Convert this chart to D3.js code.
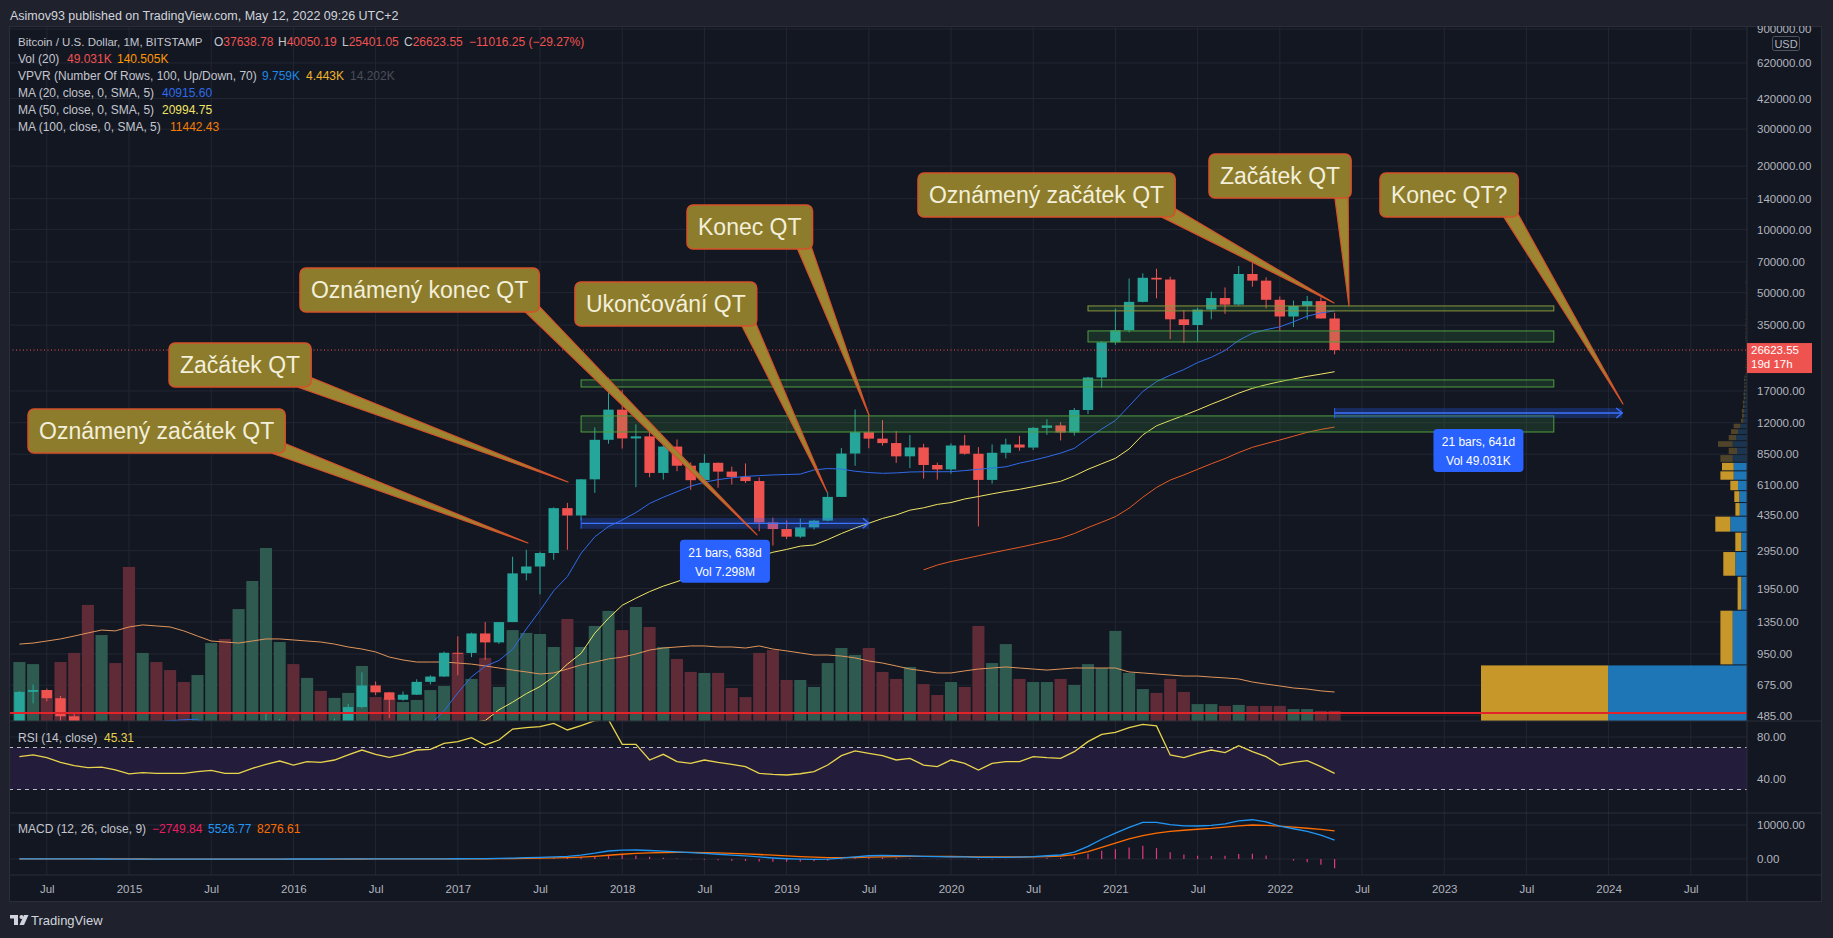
<!DOCTYPE html>
<html><head><meta charset="utf-8">
<script src="https://cdn.jsdelivr.net/npm/d3@7"></script>
<style>
html,body{margin:0;padding:0;background:#1f222d;overflow:hidden;}
svg{display:block;}
text{font-family:"Liberation Sans",Arial,sans-serif;}
</style></head><body>
<svg id="chart" width="1833" height="938"></svg>
<script>
// ---------------- DATA ----------------
const months = ["2014-05","2014-06","2014-07","2014-08","2014-09","2014-10","2014-11","2014-12",
"2015-01","2015-02","2015-03","2015-04","2015-05","2015-06","2015-07","2015-08","2015-09","2015-10","2015-11","2015-12",
"2016-01","2016-02","2016-03","2016-04","2016-05","2016-06","2016-07","2016-08","2016-09","2016-10","2016-11","2016-12",
"2017-01","2017-02","2017-03","2017-04","2017-05","2017-06","2017-07","2017-08","2017-09","2017-10","2017-11","2017-12",
"2018-01","2018-02","2018-03","2018-04","2018-05","2018-06","2018-07","2018-08","2018-09","2018-10","2018-11","2018-12",
"2019-01","2019-02","2019-03","2019-04","2019-05","2019-06","2019-07","2019-08","2019-09","2019-10","2019-11","2019-12",
"2020-01","2020-02","2020-03","2020-04","2020-05","2020-06","2020-07","2020-08","2020-09","2020-10","2020-11","2020-12",
"2021-01","2021-02","2021-03","2021-04","2021-05","2021-06","2021-07","2021-08","2021-09","2021-10","2021-11","2021-12",
"2022-01","2022-02","2022-03","2022-04","2022-05"];

const open = [445,627,640,585,480,387,338,375,
 320,217,254,244,236,230,263,284,230,236,314,377,
 430,368,436,416,448,531,673,624,575,608,700,742,
 963,961,1190,1079,1348,2300,2480,2875,4703,4340,6450,9950,
 13850,10100,10330,6920,9240,7490,6390,7730,7020,6625,6330,4020,
 3740,3440,3810,4100,5320,8560,10820,10080,9600,8300,9150,7550,
 7190,9350,8540,6410,8630,9450,9140,11340,11650,10780,13800,19700,
 28990,33110,45160,58800,57700,37300,35040,41500,47100,43800,61300,57000,
 46200,38470,43160,45530,37638.78];
const high = [633,680,650,600,495,417,459,391,
 320,265,300,261,247,268,317,285,244,334,500,466,
 462,442,439,468,550,777,704,627,630,720,752,975,
 1153,1200,1350,1348,2760,2980,2920,4745,4980,6470,11400,19666,
 17170,11790,11700,9750,9990,7770,8500,7760,7410,7680,6590,4240,
 4110,4190,4140,5620,9100,13880,13180,12350,10950,10500,9520,7750,
 9570,10500,9180,9460,10070,10390,11450,12470,12070,14100,19850,29300,
 41950,58330,61780,64900,59500,41300,42400,50500,52900,67000,69000,59100,
 47900,45800,48200,47440,40050.19];
const low = [437,553,565,441,351,275,316,305,
 152,212,236,215,227,218,253,162,224,236,300,349,
 354,366,394,414,440,525,605,470,569,606,681,740,
 752,918,890,1061,1348,2130,1830,2670,2980,4110,5560,9530,
 9040,5920,6600,6430,7050,5750,6070,5880,6100,6200,3650,3120,
 3350,3390,3720,4070,5320,7480,9070,9340,7730,7300,6500,6430,
 6860,8450,3850,6150,8120,8830,8900,10510,9880,10420,13200,17600,
 28200,32300,44950,47000,30000,28800,29300,37300,39600,43300,53300,42000,
 32900,34300,37200,37600,25401.05];
const close = [627,640,585,480,387,338,375,320,
 217,254,244,236,230,263,284,230,236,314,377,430,
 368,436,416,448,531,673,624,575,608,700,742,963,
 961,1190,1079,1348,2300,2480,2875,4703,4340,6450,9950,13850,
 10100,10330,6920,9240,7490,6390,7730,7020,6625,6330,4020,3740,
 3440,3810,4100,5320,8560,10820,10080,9600,8300,9150,7550,7190,
 9350,8540,6410,8630,9450,9140,11340,11650,10780,13800,19700,28990,
 33110,45160,58800,57700,37300,35040,41500,47100,43800,61300,57000,46200,
 38470,43160,45530,37640,26623.55];
// volume, thousands of BTC
const volume = [286,276,150,286,330,563,417,281,
 747,330,286,247,189,223,378,398,543,679,839,383,
 276,209,146,112,136,267,116,112,92,102,150,170,
 330,204,306,165,441,427,422,359,495,359,461,534,
 441,553,456,359,301,238,233,233,160,116,330,344,
 199,199,165,281,354,320,354,238,204,262,179,126,
 189,165,461,281,373,204,189,189,204,175,276,257,
 437,233,155,136,204,141,82,82,73,78,73,73,
 73,58,58,49,49.031];
const volumeMA = [373,378,388,398,412,427,441,437,
 456,466,461,456,437,412,388,383,378,388,398,398,
 393,388,383,373,359,349,335,310,296,286,286,286,
 281,276,267,257,247,238,228,233,252,272,286,301,
 310,325,344,354,359,364,364,359,359,354,364,349,
 340,330,320,320,315,306,291,281,267,252,243,233,
 233,243,252,257,262,257,252,247,252,257,257,257,
 257,238,233,228,223,218,218,213,209,204,189,179,
 170,160,155,146,140.505];
const ma20 = [293,324,350,368,380,392,405,415,
 425,438,452,457,462,465,423,400,385,370,362,355,
 345,335,330,325,325,330,345,360,375,390,440,510,
 620,740,830,885,1000,1250,1530,1900,2222,2866,3435,3846,
 4128,4480,4950,5300,5630,5980,6250,6430,6560,6660,6720,6770,
 6800,6830,7150,7260,7220,7050,6950,6890,6920,6990,7010,7010,
 7015,7100,7200,7300,7400,7700,7950,8250,8600,9060,10100,11200,
 12300,14400,16900,18830,20200,21500,23200,24600,26500,29600,32000,33300,
 34350,36300,38600,40000,40915.60];
const ma50 = [null,null,null,null,null,null,null,null,
 null,null,null,null,null,null,null,null,330,335,342,350,
 355,360,366,372,378,385,392,400,408,415,420,428,
 438,448,458,515,560,615,665,740,850,957,1194,1406,
 1620,1752,1883,2000,2100,2222,2320,2430,2560,2650,2763,2900,
 2990,3100,3140,3330,3560,3780,3984,4200,4365,4600,4720,4900,
 5000,5200,5340,5500,5650,5780,5950,6130,6310,6700,7200,7650,
 8120,9000,10500,11600,12300,13000,13800,14700,15600,16600,17500,18200,
 18830,19400,19950,20450,20994.75];
const ma100 = [null,null,null,null,null,null,null,null,
 null,null,null,null,null,null,null,null,null,null,null,null,
 null,null,null,null,null,null,null,null,null,null,null,null,
 null,null,null,null,null,null,null,null,null,null,null,null,
 null,null,null,null,null,null,null,null,null,null,null,null,
 null,null,null,null,null,null,null,null,null,null,2390,2520,
 2620,2700,2790,2880,2970,3060,3160,3270,3380,3560,3800,4030,
 4285,4700,5300,5900,6400,6770,7200,7650,8100,8650,9165,9550,
 9930,10350,10800,11150,11442.43];
const rsi = [61.3,62.9,60.3,55.9,52.7,50.8,51.4,48.6,
 44.8,46.0,45.4,45.4,45.4,47.0,48.2,45.4,45.4,50.1,54.0,57.1,
 53.3,56.5,55.9,58.1,62.9,67.6,63.5,60.6,63.5,67.6,68.2,74.0,
 75.6,79.4,72.4,77.1,87.6,88.9,89.9,93.0,86.7,90.8,95.5,96.5,
 73.0,73.0,58.1,63.5,56.5,54.9,58.1,55.9,54.0,51.8,45.4,44.4,
 43.8,45.0,47.0,53.3,62.2,66.7,64.5,62.2,58.1,59.7,53.3,51.8,
 58.1,54.9,48.6,54.9,56.5,56.5,61.3,60.3,59.7,66.0,75.6,82.5,
 84.4,88.9,92.1,90.5,62.9,60.3,64.5,67.6,65.1,71.7,66.0,61.3,
 53.3,55.9,57.5,51.8,45.31];
const macdLine = [45,50,48,40,25,10,0,-12,
 -30,-38,-45,-50,-52,-50,-44,-42,-40,-32,-18,-8,
 -4,0,4,8,14,25,33,38,42,47,53,65,
 80,100,130,180,280,380,480,640,750,1150,1700,2350,
 2600,2650,2500,2300,2100,1850,1650,1400,1150,900,600,300,
 80,-60,-120,-60,250,650,950,1050,1000,900,800,700,
 650,600,450,450,500,550,680,950,1180,2000,3700,5800,
 7600,9300,10800,10800,10100,9750,9700,9900,10300,11200,11550,10900,
 9700,8900,8100,7000,5526.77];
const signalLine = [55,54,53,50,45,38,30,22,
 11,1,-8,-16,-23,-28,-31,-33,-35,-34,-31,-26,
 -22,-18,-13,-9,-4,2,8,14,19,25,30,37,
 46,57,72,94,131,181,241,321,407,556,785,1098,
 1398,1649,1819,1915,1952,1932,1876,1781,1655,1504,1323,1119,
 911,717,550,428,392,444,545,646,717,754,763,750,
 730,704,653,612,590,582,601,671,880,1270,2160,3400,
 4700,5900,6900,7600,8100,8450,8750,9000,9350,9750,10000,9900,
 9650,9350,9050,8700,8276.61];
const macdHist = [-10,-4,-5,-10,-20,-28,-30,-34,
 -41,-39,-37,-34,-29,-22,-13,-9,-5,2,13,18,
 18,18,17,17,18,23,25,24,23,22,23,28,
 34,43,58,86,149,199,239,319,343,594,915,1252,
 1202,1001,681,385,148,-82,-226,-381,-505,-604,-723,-819,
 -831,-777,-670,-488,-142,206,405,404,283,146,37,-50,
 -80,-104,-203,-162,-90,-32,79,279,300,730,1540,2400,
 2900,3400,3900,3200,2000,1300,950,900,950,1450,1550,1000,
 50,-450,-950,-1700,-2749.84];

// Volume profile (visible range), 100 rows from 150 USD, 693 USD each; thousands of BTC
const vpvrPriceMin = 150, vpvrRowSize = 693, vpvrValueAreaRows = 11;
const vpvrDown = [2540,246,74,240,120,300,86,100,154,266,234,246,166,294,146,140,134,50,40,45,30,35,25,30,20,25,20,25,20,
 12,10,14,12,10,12,9,11,10,9,12,10,11,14,16,15,13,14,12,15,17,16,14,13,15,12,11,13,14,12,
 13,15,14,12,11,10,12,13,11,10,9,11,12,10,9,8,10,11,12,13,14,15,13,12,11,10,9,8,7,8,
 9,10,11,12,10,9,8,7,6,5,4];
const vpvrUp = [2780,286,114,234,114,334,146,154,180,266,266,286,200,286,220,180,134,70,60,60,50,50,40,40,35,30,30,35,30,
 14,12,16,13,12,14,11,13,12,11,14,12,13,16,18,17,15,16,14,17,19,18,16,15,17,14,13,15,16,14,
 15,17,16,14,13,12,14,15,13,12,11,13,14,12,11,10,12,13,14,15,16,17,15,14,13,12,11,10,9,10,
 11,12,13,14,12,11,10,9,8,6,5];

const priceTicks = [900000,620000,420000,300000,200000,140000,100000,70000,50000,35000,17000,12000,8500,6100,4350,2950,1950,1350,950,675,485];
const rsiTicks = [80,40];
const macdTicks = [10000,0];
const timeTicks = ["2014-07","2015-01","2015-07","2016-01","2016-07","2017-01","2017-07","2018-01","2018-07","2019-01","2019-07","2020-01","2020-07","2021-01","2021-07","2022-01","2022-07","2023-01","2023-07","2024-01","2024-07"];
const timeTickLabels = ["Jul","2015","Jul","2016","Jul","2017","Jul","2018","Jul","2019","Jul","2020","Jul","2021","Jul","2022","Jul","2023","Jul","2024","Jul"];

// drawings (time in months from Jan 2015, price in USD)
const zoneFrom = ["2020-11","2020-11","2017-10","2017-10"];
const zoneTo   = ["2023-09","2023-09","2023-09","2023-09"];
const zoneLow  = [40900,29100,17760,10840];
const zoneHigh = [43190,32840,19190,12930];

const rangeFrom = ["2017-10","2022-05"];
const rangeTo   = ["2019-07","2024-02"];
const rangeLow  = [3750,12640];
const rangeHigh = [4225,14100];
const rangeLabel1 = ["21 bars, 638d","21 bars, 641d"];
const rangeLabel2 = ["Vol 7.298M","Vol 49.031K"];

const noteText = ["Oznámený začátek QT","Začátek QT","Oznámený konec QT","Ukončování QT","Konec QT","Oznámený začátek QT","Začátek QT","Konec QT?"];
const noteT    = [-7.37,2.92,12.48,32.55,40.73,57.59,78.83,91.31];
const notePrice= [13950,28770,65450,56150,130650,185570,228400,185570];
const noteTipT = [29.12,32.04,45.84,50.95,54.01,87.96,89.05,109.05];
const noteTipP = [3210,6267,3506,5614,13060,44620,43190,14740];

const redLinePrice = 498;
const lastPrice = 26623.55;

// ---------------- LAYOUT ----------------
const W=1833, H=938;
const L=9, R=1822, T=26, B=902, PR=1747;
const mainBottom=721, rsiBottom=813, macdBottom=875;
const toM = s => { const [yy,mm]=s.split("-").map(Number); return (yy-2015)*12+(mm-1); };

const x = d3.scaleLinear().domain([0,108]).range([129,129+13.7*108]);
const step = x(1)-x(0);
const y = d3.scaleLog().domain([455.7,930100]).range([mainBottom,T]);
const yVol = d3.scaleLinear().domain([0,900]).range([mainBottom, mainBottom-900/4.85]);
const yRsi = d3.scaleLinear().domain([0,100]).range([821,716]);
const yMacd = d3.scaleLinear().domain([0,10000]).range([859,825]);
const vpW = d3.scaleLinear().domain([0,5320]).range([0,266]);

const data = months.map((mo,i)=>({m:toM(mo),o:open[i],h:high[i],l:low[i],c:close[i],v:volume[i],vma:volumeMA[i],
  ma20:ma20[i],ma50:ma50[i],ma100:ma100[i],rsi:rsi[i],macd:macdLine[i],sig:signalLine[i],hist:macdHist[i]}));

const svg = d3.select("#chart");
const defs = svg.append("defs");
function clip(id,x0,y0,x1,y1){defs.append("clipPath").attr("id",id).append("rect").attr("x",x0).attr("y",y0).attr("width",x1-x0).attr("height",y1-y0);}
clip("cMain",L,T,PR,mainBottom); clip("cRsi",L,mainBottom,PR,rsiBottom); clip("cMacd",L,rsiBottom,PR,macdBottom);
clip("cAxis",PR,T,R,mainBottom);

svg.append("rect").attr("width",W).attr("height",H).attr("fill","#1f222d");
svg.append("rect").attr("x",L).attr("y",T).attr("width",R-L).attr("height",B-T).attr("fill","#131722");

const GRID="#222633";
const gGrid = svg.append("g");
timeTicks.forEach(t=>gGrid.append("line").attr("x1",x(toM(t))).attr("x2",x(toM(t))).attr("y1",T).attr("y2",macdBottom).attr("stroke",GRID));
priceTicks.forEach(p=>gGrid.append("line").attr("x1",L).attr("x2",PR).attr("y1",y(p)).attr("y2",y(p)).attr("stroke",GRID));
rsiTicks.forEach(p=>gGrid.append("line").attr("x1",L).attr("x2",PR).attr("y1",yRsi(p)).attr("y2",yRsi(p)).attr("stroke",GRID));
macdTicks.forEach(p=>gGrid.append("line").attr("x1",L).attr("x2",PR).attr("y1",yMacd(p)).attr("y2",yMacd(p)).attr("stroke",GRID));

// ---------------- MAIN PANE ----------------
const gMain = svg.append("g").attr("clip-path","url(#cMain)");

vpvrDown.forEach((d,k)=>{
  const lo=vpvrPriceMin+k*vpvrRowSize, hi=lo+vpvrRowSize;
  const y0=y(hi)+0.5, y1=y(lo)-0.5;
  const bright = k<vpvrValueAreaRows;
  const wu=vpW(vpvrUp[k]), wd=vpW(d);
  gMain.append("rect").attr("x",PR-wu).attr("y",y0).attr("width",wu).attr("height",Math.max(0.5,y1-y0)).attr("fill",bright?"#1e76b6":"#1b3550");
  gMain.append("rect").attr("x",PR-wu-wd).attr("y",y0).attr("width",wd).attr("height",Math.max(0.5,y1-y0)).attr("fill",bright?"#c7972a":"#4f4429");
});

const bw = step-1.6;
gMain.selectAll(".vol").data(data).join("rect")
  .attr("x",d=>x(d.m)-bw/2).attr("width",bw)
  .attr("y",d=>yVol(d.v)).attr("height",d=>mainBottom-yVol(d.v))
  .attr("fill",d=>d.c>=d.o?"#2e5a50":"#5f2b37");
gMain.append("path").datum(data).attr("fill","none").attr("stroke","#e0955a").attr("stroke-width",1)
  .attr("d",d3.line().x(d=>x(d.m)).y(d=>yVol(d.vma)));

const cw = 10.4;
const gC = gMain.append("g");
data.forEach(d=>{
  const col = d.c>=d.o?"#26a69a":"#ef5350";
  gC.append("line").attr("x1",x(d.m)).attr("x2",x(d.m)).attr("y1",y(d.h)).attr("y2",y(d.l)).attr("stroke",col).attr("stroke-width",1);
  const top=y(Math.max(d.o,d.c)), bot=y(Math.min(d.o,d.c));
  gC.append("rect").attr("x",x(d.m)-cw/2).attr("y",top).attr("width",cw).attr("height",Math.max(1,bot-top)).attr("fill",col);
});

const maLine = key => d3.line().defined(d=>d[key]!=null).x(d=>x(d.m)).y(d=>y(d[key]));
gMain.append("path").datum(data).attr("fill","none").attr("stroke","#e65a24").attr("stroke-width",1).attr("d",maLine("ma100"));
gMain.append("path").datum(data).attr("fill","none").attr("stroke","#f0e466").attr("stroke-width",1).attr("d",maLine("ma50"));
gMain.append("path").datum(data).attr("fill","none").attr("stroke","#2f6be8").attr("stroke-width",1).attr("d",maLine("ma20"));

zoneLow.forEach((lo,i)=>{
  const x0=x(toM(zoneFrom[i])), x1=x(toM(zoneTo[i]));
  gMain.append("rect").attr("x",x0).attr("y",y(zoneHigh[i])).attr("width",x1-x0).attr("height",y(lo)-y(zoneHigh[i]))
    .attr("fill","rgba(76,175,80,0.16)").attr("stroke",i===0?"#8a973a":"#4f9e3f").attr("stroke-width",1);
});

gMain.append("line").attr("x1",L).attr("x2",PR).attr("y1",y(redLinePrice)).attr("y2",y(redLinePrice)).attr("stroke","#e3232a").attr("stroke-width",2);
gMain.append("line").attr("x1",L).attr("x2",PR).attr("y1",y(lastPrice)).attr("y2",y(lastPrice)).attr("stroke","#ef5350").attr("stroke-dasharray","1,2.5").attr("stroke-width",1);

rangeLow.forEach((lo,i)=>{
  const x0=x(toM(rangeFrom[i])), x1=x(toM(rangeTo[i]));
  const yt=y(rangeHigh[i]), yb=y(lo), ym=(yt+yb)/2;
  gMain.append("rect").attr("x",x0).attr("y",yt).attr("width",x1-x0).attr("height",yb-yt).attr("fill","rgba(41,98,255,0.28)");
  gMain.append("line").attr("x1",x0).attr("x2",x0).attr("y1",yt).attr("y2",yb).attr("stroke","#2962ff");
  gMain.append("line").attr("x1",x0).attr("x2",x1).attr("y1",ym).attr("y2",ym).attr("stroke","#3d72ff").attr("stroke-width",1.3);
  gMain.append("path").attr("d",`M${x1-6},${ym-5}L${x1},${ym}L${x1-6},${ym+5}`).attr("fill","none").attr("stroke","#3d72ff").attr("stroke-width",1.3);
  const cx=(x0+x1)/2, bt=yb+11;
  gMain.append("rect").attr("x",cx-45).attr("y",bt).attr("width",90).attr("height",43).attr("rx",4).attr("fill","#2962ff");
  gMain.append("text").attr("x",cx).attr("y",bt+17).attr("text-anchor","middle").attr("fill","#fff").attr("font-size",12).text(rangeLabel1[i]);
  gMain.append("text").attr("x",cx).attr("y",bt+36).attr("text-anchor","middle").attr("fill","#fff").attr("font-size",12).text(rangeLabel2[i]);
});

const gNotes = svg.append("g").attr("clip-path","url(#cMain)");
noteText.forEach((txt,i)=>{
  const bx=x(noteT[i]), by=y(notePrice[i]), bh=44;
  const g = gNotes.append("g");
  const tail = g.append("path");
  const box = g.append("rect");
  const t = g.append("text").attr("x",bx+11).attr("y",by+30).attr("fill","#f3efd9").attr("font-size",23).text(txt);
  const tw = t.node().getComputedTextLength();
  const bwid = tw+22;
  box.attr("x",bx).attr("y",by).attr("width",bwid).attr("height",bh).attr("rx",6)
     .attr("fill","#8c7c2c").attr("stroke","#d4512a").attr("stroke-width",1.5);
  const cx=bx+bwid-10, cy=by+bh-6;
  const tx=x(noteTipT[i]), ty=y(noteTipP[i]);
  const dx=tx-cx, dy=ty-cy, len=Math.hypot(dx,dy), nx=-dy/len, ny=dx/len, hw=7;
  tail.attr("d",`M${cx+nx*hw},${cy+ny*hw}L${tx},${ty}L${cx-nx*hw},${cy-ny*hw}Z`)
      .attr("fill","#9c8631").attr("stroke","#d4512a").attr("stroke-width",1.2).attr("stroke-linejoin","round");
});

// ---------------- RSI ----------------
const gRsi = svg.append("g").attr("clip-path","url(#cRsi)");
gRsi.append("rect").attr("x",L).attr("y",yRsi(70)).attr("width",PR-L).attr("height",yRsi(30)-yRsi(70)).attr("fill","#241c3b");
[70,30].forEach(v=>gRsi.append("line").attr("x1",L).attr("x2",PR).attr("y1",yRsi(v)).attr("y2",yRsi(v)).attr("stroke","#b8bac2").attr("stroke-dasharray","4,4"));
gRsi.append("path").datum(data).attr("fill","none").attr("stroke","#e8d44d").attr("stroke-width",1.3)
  .attr("d",d3.line().x(d=>x(d.m)).y(d=>yRsi(d.rsi)));

// ---------------- MACD ----------------
const gMacd = svg.append("g").attr("clip-path","url(#cMacd)");
gMacd.selectAll(".h").data(data).join("line")
  .attr("x1",d=>x(d.m)).attr("x2",d=>x(d.m)).attr("y1",yMacd(0)).attr("y2",d=>yMacd(d.hist))
  .attr("stroke","#e0387a").attr("stroke-width",1.2);
gMacd.append("path").datum(data).attr("fill","none").attr("stroke","#ff6d00").attr("stroke-width",1.3)
  .attr("d",d3.line().x(d=>x(d.m)).y(d=>yMacd(d.sig)));
gMacd.append("path").datum(data).attr("fill","none").attr("stroke","#2196f3").attr("stroke-width",1.3)
  .attr("d",d3.line().x(d=>x(d.m)).y(d=>yMacd(d.macd)));

// ---------------- SEPARATORS ----------------
const SEP="#2a2e39";
[mainBottom,rsiBottom,macdBottom].forEach(v=>svg.append("line").attr("x1",L).attr("x2",R).attr("y1",v).attr("y2",v).attr("stroke",SEP));
svg.append("line").attr("x1",PR).attr("x2",PR).attr("y1",T).attr("y2",B).attr("stroke",SEP);
svg.append("rect").attr("x",L+0.5).attr("y",T+0.5).attr("width",R-L-1).attr("height",B-T-1).attr("fill","none").attr("stroke",SEP);

// ---------------- AXES ----------------
function styleAxis(g){
  g.select(".domain").remove();
  g.selectAll("text").attr("fill","#b2b5be").attr("font-size",11.5).attr("font-family","'Liberation Sans',Arial,sans-serif");
}
svg.append("g").attr("clip-path","url(#cAxis)").append("g").attr("transform",`translate(${PR},0)`)
  .call(d3.axisRight(y).tickValues(priceTicks).tickFormat(d=>d.toFixed(2)).tickSize(0).tickPadding(10)).call(styleAxis);
svg.append("g").attr("transform",`translate(${PR},0)`)
  .call(d3.axisRight(yRsi).tickValues(rsiTicks).tickFormat(d=>d.toFixed(2)).tickSize(0).tickPadding(10)).call(styleAxis);
svg.append("g").attr("transform",`translate(${PR},0)`)
  .call(d3.axisRight(yMacd).tickValues(macdTicks).tickFormat(d=>d.toFixed(2)).tickSize(0).tickPadding(10)).call(styleAxis);
svg.append("g").attr("transform",`translate(0,${macdBottom})`)
  .call(d3.axisBottom(x).tickValues(timeTicks.map(toM)).tickFormat((d,i)=>timeTickLabels[i]).tickSize(0).tickPadding(10)).call(styleAxis);

svg.append("rect").attr("x",1772.5).attr("y",36.5).attr("width",27).attr("height",14).attr("rx",2).attr("fill","#131722").attr("stroke","#50535e");
svg.append("text").attr("x",1786).attr("y",47.5).attr("text-anchor","middle").attr("fill","#b2b5be").attr("font-size",11).text("USD");
svg.append("rect").attr("x",PR).attr("y",y(lastPrice)-7).attr("width",65).attr("height",30).attr("fill","#ef5350");
svg.append("text").attr("x",PR+4).attr("y",y(lastPrice)+4).attr("fill","#fff").attr("font-size",11.5).text(lastPrice.toFixed(2));
svg.append("text").attr("x",PR+4).attr("y",y(lastPrice)+18).attr("fill","#fff").attr("font-size",11.5).text("19d 17h");

// ---------------- TEXTS ----------------
svg.append("text").attr("x",10).attr("y",20).attr("fill","#d1d4dc").attr("font-size",12.5)
  .text("Asimov93 published on TradingView.com, May 12, 2022 09:26 UTC+2");
const LG="#c3c6ce", FS=12;
function leg(yy, parts, fs){ parts.forEach(p=>svg.append("text").attr("x",p[1]).attr("y",yy).attr("fill",p[2]).attr("font-size",fs||FS).text(p[0])); }
function ohlc(xx,yy,lab,val){ const t=svg.append("text").attr("x",xx).attr("y",yy).attr("font-size",FS);
  t.append("tspan").attr("fill",LG).text(lab); t.append("tspan").attr("fill","#ef5350").text(val); }
leg(46,[["Bitcoin / U.S. Dollar, 1M, BITSTAMP",18,LG]],11.5);
ohlc(214,46,"O","37638.78"); ohlc(278,46,"H","40050.19"); ohlc(342,46,"L","25401.05"); ohlc(404,46,"C","26623.55");
leg(46,[["−11016.25 (−29.27%)",469,"#ef5350"]]);
leg(63,[["Vol (20)",18,LG],["49.031K",67,"#ef5350"],["140.505K",117,"#ff9800"]]);
leg(80,[["VPVR (Number Of Rows, 100, Up/Down, 70)",18,LG],["9.759K",262,"#1e88e5"],["4.443K",306,"#f0b429"],["14.202K",350,"#4a4e5a"]]);
leg(97,[["MA (20, close, 0, SMA, 5)",18,LG],["40915.60",162,"#2f6be8"]]);
leg(114,[["MA (50, close, 0, SMA, 5)",18,LG],["20994.75",162,"#f0e466"]]);
leg(131,[["MA (100, close, 0, SMA, 5)",18,LG],["11442.43",170,"#f57c00"]]);
leg(742,[["RSI (14, close)",18,LG],["45.31",104,"#e8d44d"]]);
leg(833,[["MACD (12, 26, close, 9)",18,LG],["−2749.84",152,"#e91e63"],["5526.77",208,"#2196f3"],["8276.61",257,"#ff6d00"]]);

const gl = svg.append("g").attr("fill","#d1d4dc");
gl.append("rect").attr("x",10).attr("y",915).attr("width",8).attr("height",3.5);
gl.append("rect").attr("x",14).attr("y",915).attr("width",4).attr("height",10);
gl.append("circle").attr("cx",21.5).attr("cy",917).attr("r",2);
gl.append("path").attr("d","M24,915L28.5,915L24,925L19.5,925Z");
svg.append("text").attr("x",31).attr("y",925).attr("fill","#d1d4dc").attr("font-size",13).text("TradingView");
</script>
</body></html>
